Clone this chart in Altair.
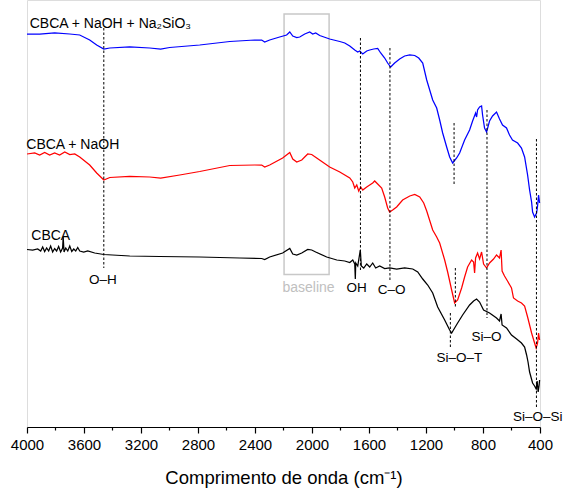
import altair as alt
import pandas as pd

# ---------------- data ----------------
wn_blue = [4000, 3911, 3806, 3700, 3630, 3560, 3511, 3461, 3419, 3279, 3139, 3062, 2999, 2788, 2577,
           2402, 2353, 2332, 2297, 2227, 2178, 2156, 2135, 2107, 2086, 2051, 2016, 1995, 1974, 1946,
           1876, 1805, 1770, 1735, 1700, 1679, 1665, 1644, 1616, 1595, 1567, 1539, 1518, 1490, 1469,
           1448, 1420, 1385, 1350, 1314, 1279, 1251, 1223, 1195, 1174, 1153, 1125, 1104, 1083, 1055,
           1034, 1013, 985, 964, 929, 894, 873, 852, 845, 838, 824, 810, 803, 789, 775, 754, 733, 705,
           684, 663, 635, 614, 593, 557, 530, 508, 487, 473, 459, 452, 438, 424, 417, 410, 403]
t_blue = [393, 393, 394, 393, 392, 387, 382, 378, 379, 380, 379, 378, 379.5, 382, 385.5,
          387, 387, 385, 387, 390, 392, 395, 391, 389.5, 390, 393, 395, 393, 394, 391.5,
          388, 385.5, 384, 381, 377, 375, 376, 373, 376, 377, 378, 378.5, 374, 369, 364,
          360, 364, 368, 371, 372, 371.5, 369, 364, 347, 337, 327, 319, 307, 294, 280,
          270, 264, 269, 274, 287, 297, 306, 314, 310, 317, 320, 321, 312, 299, 295, 306, 311, 315,
          308, 302, 299, 292, 287, 284, 279, 270, 252, 237, 225, 215, 210, 214, 221, 232, 224]

wn_red = [4000, 3946, 3911, 3876, 3841, 3806, 3771, 3735, 3700, 3665, 3630, 3560, 3511, 3461, 3419,
          3279, 3139, 3062, 2928, 2788, 2577, 2402, 2353, 2332, 2297, 2206, 2156, 2135, 2107, 2072,
          2030, 2002, 1967, 1876, 1805, 1735, 1714, 1700, 1686, 1672, 1658, 1644, 1616, 1595, 1574,
          1560, 1546, 1511, 1490, 1469, 1455, 1434, 1406, 1364, 1314, 1279, 1244, 1216, 1195, 1153,
          1125, 1104, 1069, 1048, 1020, 999, 978, 950, 929, 908, 880, 866, 859, 852, 838, 824, 810,
          796, 775, 754, 726, 705, 684, 673, 666, 649, 628, 600, 586, 557, 530, 508, 487, 459, 438,
          427, 417, 410, 403]
t_red = [273, 274, 272, 274.5, 272, 274, 272, 275, 272.5, 273, 270, 262, 254, 247, 249.5,
         250.5, 250, 249, 252, 255.5, 261.5, 262, 262, 260, 262, 269, 274.5, 268, 265, 267,
         273, 272.5, 269, 260, 255, 249, 245, 239, 242, 236, 240, 237, 240, 242, 244,
         246, 244, 239, 230, 219, 215, 217, 220, 227, 231, 232.5, 230, 224, 216, 197,
         190, 184, 167, 155, 137, 124, 127, 139, 150, 160, 167, 165, 154, 169, 174, 168, 175,
         163, 159, 164, 168, 172, 169, 177, 156, 151, 146, 139, 129, 126, 124, 121, 110, 94, 84,
         79, 84, 94, 87]

wn_black = [4000, 3960, 3925, 3904, 3890, 3876, 3862, 3848, 3834, 3820, 3806, 3792, 3778, 3764, 3750,
            3746, 3740, 3728, 3714, 3700, 3686, 3672, 3658, 3644, 3630, 3602, 3574, 3525, 3461, 3279,
            3069, 2788, 2507, 2353, 2332, 2297, 2206, 2156, 2135, 2107, 2072, 2030, 2002, 1974, 1897,
            1826, 1770, 1735, 1714, 1700, 1696, 1693, 1679, 1661, 1654, 1637, 1616, 1595, 1574, 1553,
            1525, 1490, 1455, 1406, 1350, 1293, 1258, 1223, 1188, 1153, 1118, 1069, 1034, 1020, 999,
            978, 943, 894, 866, 845, 824, 796, 754, 705, 684, 673, 666, 635, 600, 564, 530, 508, 494,
            484, 473, 452, 438, 427, 420, 413, 406, 403]
t_black = [177.5, 177, 178, 176, 180, 175.5, 179, 176, 181, 175, 178.5, 176, 180.5, 175, 179,
           190, 175, 179, 176, 181, 175.5, 178, 176, 179.5, 176, 175, 176, 174, 172.5, 171,
           170.5, 170, 169, 168.5, 167.5, 170, 174, 178.5, 173, 172, 174, 177.5, 177, 175, 170,
           167, 166, 164.5, 167, 163, 148, 164, 161, 177, 161, 159, 163, 160, 164, 159,
           161, 158.5, 159, 158, 159, 158, 155, 148, 142, 134, 120, 107, 97, 94, 99,
           104, 112, 122, 126, 128, 125, 117, 114, 109, 106, 113, 102, 99, 92, 88, 84, 80, 72,
           65, 55, 44, 41, 38, 46, 35, 42, 47]

series_names = ["CBCA + NaOH + Na\u2082SiO\u2083", "CBCA + NaOH", "CBCA"]
series_colors = ["#0000FF", "#FF0000", "#000000"]
series_label_wn = [3981, 4005, 3970]
series_label_t = [403, 282, 191]

# dashed marker segments: wavenumber, top, bottom
mark_wn = [3461, 1660, 1453, 1003, 994, 1029, 772, 425]
mark_top = [399, 389, 379, 304, 159, 114, 317, 288]
mark_bot = [159, 155, 147, 241, 119, 79, 109, 20]

peak_labels = ["O\u2013H", "OH", "C\u2013O", "Si\u2013O\u2013T", "Si\u2013O", "Si\u2013O\u2013Si"]
peak_label_wn = [3467, 1687, 1441, 965, 775, 416]
peak_label_t = [147, 139, 137, 69, 90, 10]

baseline_wn = [2196, 1880]
baseline_t = [413, 152.5]
baseline_label = "baseline"
baseline_label_wn = 2024
baseline_label_t = 139

major_ticks = [4000, 3600, 3200, 2800, 2400, 2000, 1600, 1200, 800, 400]
minor_ticks = [3800, 3400, 3000, 2600, 2200, 1800, 1400, 1000, 600]

# ---------------- build tables ----------------
rows = []
for name, wn, tv in zip(series_names, [wn_blue, wn_red, wn_black], [t_blue, t_red, t_black]):
    for i, (a, b) in enumerate(zip(wn, tv)):
        rows.append({"series": name, "wn": a, "t": b, "i": i})
spectra = pd.DataFrame(rows)

marks_df = pd.DataFrame({"wn": mark_wn, "top": mark_top, "bot": mark_bot})
peaks_df = pd.DataFrame({"label": peak_labels, "wn": peak_label_wn, "t": peak_label_t})
series_df = pd.DataFrame({"label": series_names, "wn": series_label_wn, "t": series_label_t})
box_df = pd.DataFrame({"x1": [baseline_wn[0]], "x2": [baseline_wn[1]],
                       "y1": [baseline_t[0]], "y2": [baseline_t[1]]})
blabel_df = pd.DataFrame({"label": [baseline_label], "wn": [baseline_label_wn], "t": [baseline_label_t]})
minor_df = pd.DataFrame({"wn": minor_ticks})

FONT = "Liberation Sans"
xscale = alt.Scale(domain=[4000, 400], nice=False, zero=False)
yscale = alt.Scale(domain=[0, 427], nice=False, zero=False)

x_axis = alt.Axis(values=major_ticks, format="d", grid=False, tickSize=6, tickWidth=1.2,
                  tickColor="black", domainColor="black", domainWidth=1.2,
                  labelFont=FONT, labelFontSize=15, labelColor="black", labelPadding=4,
                  labelFlush=False, labelOverlap=False,
                  title="Comprimento de onda (cm\u207b\u00b9)", titleFont=FONT, titleFontSize=18.5,
                  titleFontWeight="normal", titleColor="black", titlePadding=16)

box = alt.Chart(box_df).mark_rect(fill=None, stroke="#c8c8c8", strokeWidth=1.5).encode(
    x=alt.X("x1:Q", scale=xscale, axis=x_axis),
    x2="x2:Q",
    y=alt.Y("y1:Q", scale=yscale, axis=None),
    y2="y2:Q",
)

blabel = alt.Chart(blabel_df).mark_text(font=FONT, fontSize=14, color="#c0c0c0").encode(
    x=alt.X("wn:Q", scale=xscale), y=alt.Y("t:Q", scale=yscale), text="label:N")

dashed = alt.Chart(marks_df).mark_rule(color="black", strokeWidth=1, strokeDash=[2.5, 2]).encode(
    x=alt.X("wn:Q", scale=xscale), y=alt.Y("top:Q", scale=yscale), y2="bot:Q")

lines = alt.Chart(spectra).mark_line(strokeWidth=1.25).encode(
    x=alt.X("wn:Q", scale=xscale),
    y=alt.Y("t:Q", scale=yscale),
    color=alt.Color("series:N", scale=alt.Scale(domain=series_names, range=series_colors), legend=None),
    order="i:Q",
    detail="series:N",
)

peaks = alt.Chart(peaks_df).mark_text(font=FONT, fontSize=13.5, color="black").encode(
    x=alt.X("wn:Q", scale=xscale), y=alt.Y("t:Q", scale=yscale), text="label:N")

slabels = alt.Chart(series_df).mark_text(font=FONT, fontSize=14, color="black", align="left").encode(
    x=alt.X("wn:Q", scale=xscale), y=alt.Y("t:Q", scale=yscale), text="label:N")

minor = alt.Chart(minor_df).mark_rule(color="black", strokeWidth=1.2).encode(
    x=alt.X("wn:Q", scale=xscale), y=alt.value(427), y2=alt.value(430.5))

chart = alt.layer(box, blabel, lines, dashed, peaks, slabels, minor).properties(
    width=513, height=427,
    autosize=alt.AutoSizeParams(type="none"),
    padding={"left": 27, "top": 0, "right": 25, "bottom": 63},
).configure_view(stroke=None).configure(background="white")

chart.save("out.html", embed_options={"renderer": "svg", "actions": False})
